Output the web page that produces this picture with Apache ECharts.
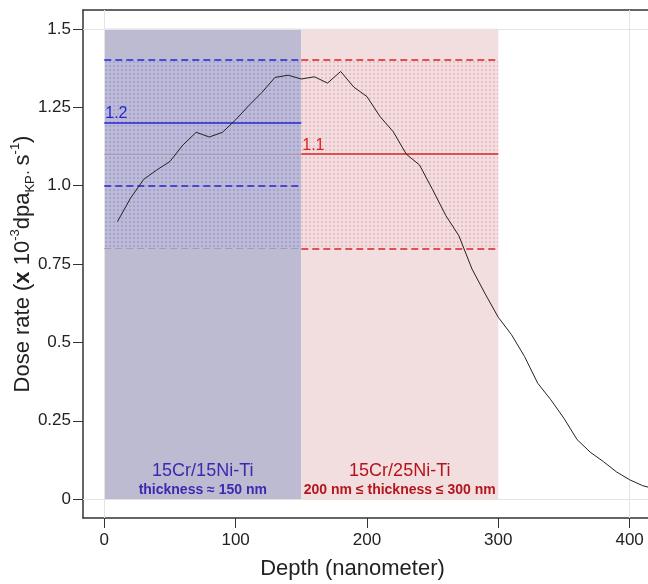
<!DOCTYPE html>
<html>
<head>
<meta charset="utf-8">
<script src="https://cdn.jsdelivr.net/npm/echarts@6/dist/echarts.min.js"></script>
<style>
html,body{margin:0;padding:0;background:#fff;}
#chart{width:648px;height:584px;}
</style>
</head>
<body>
<div id="chart"></div>
<script>
// ---- data ----
const depth = [10,20,30,40,50,60,70,80,90,100,110,120,130,140,150,160,170,180,190,200,210,220,230,240,250,260,270,280,290,300,310,320,330,340,350,360,370,380,390,400,410,420];
const doseRate = [0.885,0.96,1.02,1.05,1.077,1.13,1.17,1.155,1.17,1.21,1.255,1.297,1.345,1.352,1.34,1.347,1.327,1.364,1.314,1.284,1.22,1.172,1.10,1.066,0.987,0.905,0.84,0.734,0.655,0.58,0.525,0.455,0.37,0.317,0.258,0.19,0.15,0.12,0.087,0.062,0.043,0.032];
const xTickValues = [0,100,200,300,400];
const xTickLabels = ['0','100','200','300','400'];
const yTickValues = [0,0.25,0.5,0.75,1.0,1.25,1.5];
const yTickLabels = ['0','0.25','0.5','0.75','1.0','1.25','1.5'];
// regions: [xStart, xEnd, yTop]
const regionA = [0,150,1.5];
const regionB = [150,300,1.5];
const bandA = [0.8,1.4];
const meanA = 1.2, lowA = 1.0, highA = 1.4;
const meanB = 1.1, lowB = 0.8, highB = 1.4;
const labelA = ['15Cr/15Ni-Ti','thickness \u2248 150 nm'];
const labelB = ['15Cr/25Ni-Ti','200 nm \u2264 thickness \u2264 300 nm'];

function dotPattern(color){
  const c = document.createElement('canvas');
  c.width = 4; c.height = 4;
  const ctx = c.getContext('2d');
  ctx.fillStyle = color;
  ctx.fillRect(1,1,2,2);
  return {image: c, repeat: 'repeat'};
}

const blue = '#2626d6', red = '#dc2323';
function seg(x0,x1,y,color,type,width,label){
  const s = {coord:[x0,y], lineStyle:{color:color,type:type,width:width}};
  if(label){ s.label = label; } else { s.label = {show:false}; }
  return [s,{coord:[x1,y]}];
}

const chart = echarts.init(document.getElementById('chart'));
const xMin = -16.2, xMax = 414, yMin = -0.06, yMax = 1.56;
chart.setOption({
  animation:false,
  grid:{left:83,right:0,top:10,bottom:66,containLabel:false,outerBoundsMode:'none'},
  xAxis:[{
    type:'value', min:xMin, max:xMax,
    name:'Depth (nanometer)', nameLocation:'middle', nameGap:40, nameMoveOverlap:false,
    nameTextStyle:{fontSize:22,color:'#222',fontFamily:'Liberation Sans, Arial',padding:[0,26,0,0]},
    axisLine:{show:true,onZero:false,lineStyle:{color:'#333',width:1.5}},
    axisTick:{show:true,length:10,customValues:xTickValues,lineStyle:{color:'#333',width:1}},
    axisLabel:{customValues:xTickValues,margin:14,fontSize:17,color:'#222',fontFamily:'Liberation Sans, Arial',
      formatter:(v)=>{const i=xTickValues.indexOf(v);return i>=0?xTickLabels[i]:'';}},
    splitLine:{show:false}
  },{
    type:'value', min:xMin, max:xMax, position:'top',
    axisLine:{show:true,onZero:false,lineStyle:{color:'#333',width:1.5}},
    axisTick:{show:false}, axisLabel:{show:false}, splitLine:{show:false}
  }],
  yAxis:{
    type:'value', min:yMin, max:yMax,
    name:'{m|Dose rate (}{b|x}{m| 10}{sup|-3}{m|dpa}{sub|KP}{dot|\u00b7 }{m|s}{sup|-1}{m|)}',
    nameLocation:'middle', nameGap:46, nameMoveOverlap:false,
    nameTextStyle:{
      fontFamily:'Liberation Sans, Arial', color:'#222',
      rich:{
        m:{fontSize:22,color:'#222',fontFamily:'Liberation Sans, Arial',lineHeight:28},
        b:{fontSize:22,fontWeight:'bold',color:'#222',fontFamily:'Liberation Sans, Arial',lineHeight:28},
        sup:{fontSize:13,color:'#222',verticalAlign:'top',fontFamily:'Liberation Sans, Arial',lineHeight:28},
        sub:{fontSize:13,color:'#222',verticalAlign:'bottom',fontFamily:'Liberation Sans, Arial',lineHeight:24},
        dot:{fontSize:16,color:'#222',fontFamily:'Liberation Sans, Arial',verticalAlign:'bottom',lineHeight:28}
      }
    },
    axisLine:{show:true,onZero:false,lineStyle:{color:'#333',width:1.5}},
    axisTick:{show:true,length:10,customValues:yTickValues,lineStyle:{color:'#333',width:1}},
    axisLabel:{customValues:yTickValues,margin:12,fontSize:17,color:'#222',fontFamily:'Liberation Sans, Arial',
      formatter:(v)=>{let i=-1;yTickValues.forEach((t,k)=>{if(Math.abs(t-v)<1e-9)i=k;});return i>=0?yTickLabels[i]:'';}},
    splitLine:{show:false}
  },
  series:[
    { // light grid lines
      type:'line', data:[], silent:true, z:1,
      markLine:{silent:true,symbol:'none',label:{show:false},animation:false,
        lineStyle:{color:'#e4e4e4',width:1,type:'solid'},
        data:[{xAxis:0},{xAxis:400},{yAxis:0},{yAxis:1.5}]}
    },
    { // regions
      type:'line', data:[], silent:true, z:2,
      markArea:{silent:true,
        data:[
          [{coord:[regionA[0],0],itemStyle:{color:'#bdbbd1'},
            label:{show:true,position:'insideBottom',distance:1,
              formatter:'{a|'+labelA[0]+'}\n{b|'+labelA[1]+'}',
              rich:{a:{fontSize:18,color:'#3a2ab0',fontFamily:'Liberation Sans, Arial',lineHeight:21},
                    b:{fontSize:14,fontWeight:'bold',color:'#3a2ab0',fontFamily:'Liberation Sans, Arial',lineHeight:17}}}},
           {coord:[regionA[1],regionA[2]]}],
          [{coord:[regionB[0],0],itemStyle:{color:'#f2dede'},
            label:{show:true,position:'insideBottom',distance:1,
              formatter:'{a|'+labelB[0]+'}\n{b|'+labelB[1]+'}',
              rich:{a:{fontSize:18,color:'#b3161c',fontFamily:'Liberation Sans, Arial',lineHeight:21},
                    b:{fontSize:14,fontWeight:'bold',color:'#b3161c',fontFamily:'Liberation Sans, Arial',lineHeight:17}}}},
           {coord:[regionB[1],regionB[2]]}],
          [{coord:[regionA[0],bandA[0]],itemStyle:{color:dotPattern('rgba(135,130,240,0.45)')},label:{show:false}},
           {coord:[regionA[1],bandA[1]]}],
          [{coord:[regionB[0],lowB],itemStyle:{color:dotPattern('rgba(225,150,165,0.45)')},label:{show:false}},
           {coord:[regionB[1],highB]}]
        ]}
    },
    { // reference lines
      type:'line', data:[], silent:true, z:3,
      markLine:{silent:true,symbol:'none',animation:false,
        data:[
          seg(regionA[0],regionA[1],highA,blue,[7,4],1.5),
          seg(regionA[0],regionA[1],lowA,blue,[7,4],1.5),
          seg(regionA[0],regionA[1],meanA,blue,'solid',1.5,
            {show:true,position:'insideStartTop',distance:[1,1],formatter:'1.2',fontSize:16,color:blue,fontFamily:'Liberation Sans, Arial'}),
          seg(regionA[0],regionA[1],lowB,'#a39cb8',[7,4],1.2),
          seg(regionA[0],regionA[1],meanB,'#aa9cb6','solid',1),
          seg(regionB[0],regionB[1],highB,red,[7,4],1.5),
          seg(regionB[0],regionB[1],lowB,red,[7,4],1.5),
          seg(regionB[0],regionB[1],meanB,red,'solid',1.5,
            {show:true,position:'insideStartTop',distance:[1,1],formatter:'1.1',fontSize:16,color:red,fontFamily:'Liberation Sans, Arial'})
        ]}
    },
    {
      type:'line', z:5, showSymbol:false, symbol:'none', silent:true,
      data: depth.map((d,i)=>[d,doseRate[i]]),
      lineStyle:{color:'#222',width:1}
    }
  ]
});
</script>
</body>
</html>
